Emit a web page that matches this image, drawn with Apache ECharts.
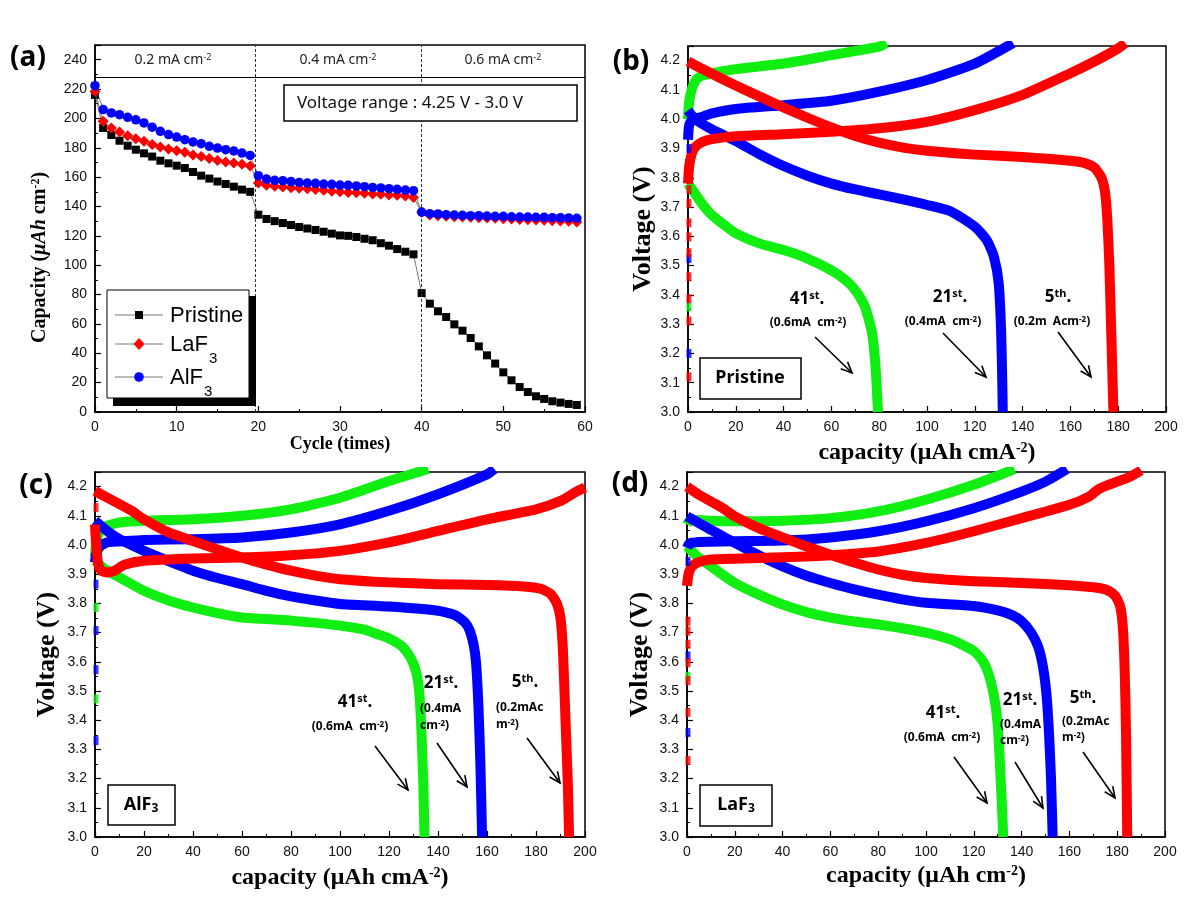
<!DOCTYPE html>
<html><head><meta charset="utf-8">
<script src="https://cdn.jsdelivr.net/npm/echarts@6/dist/echarts.min.js"></script>
<style>html,body{margin:0;padding:0;background:#fff}#c{width:1200px;height:900px}</style>
</head><body><div id="c"></div>
<script>
// ---------- Panel (a): rate capability ----------
const cycles = [0,1,2,3,4,5,6,7,8,9,10,11,12,13,14,15,16,17,18,19,20,21,22,23,24,25,26,27,28,29,30,31,32,33,34,35,36,37,38,39,40,41,42,43,44,45,46,47,48,49,50,51,52,53,54,55,56,57,58,59];
const pristine = [216,193.5,188.7,184.8,181.4,178.7,176.2,174,171.2,169.4,167.8,166.2,163.5,161,159,157,155.3,153.5,151.5,150,
  134.4,131.5,130,128.7,127.4,126,125,124,122.8,121.5,120.3,120,119.2,118,117,115,113.3,111,109.2,107.4,
  81,73.8,68.6,64.7,59.7,55.4,50.4,44.7,38.6,33,27,21.6,17,13.6,10.7,8.9,7.3,6.4,5.5,4.8];
const laf3 = [218.4,198,193.5,190.7,188.2,186.2,184.4,182.3,180.5,179.2,178,176.9,175,174,172.6,171.4,170.3,169.6,168.7,167.6,
  156,154.4,153.7,153.3,152.8,152.4,152,151.5,151,150.3,150.1,149.6,149.4,149,148.5,148.3,147.8,147.6,147.1,146.2,
  136,134.2,133.7,133.3,133,132.8,132.6,132.4,132.2,131.9,131.7,131.5,131.2,131,130.8,130.6,130.3,130.1,129.9,129.4];
const alf3 = [222.3,206,203.7,202.5,200.7,199,196.9,194,191.2,189,187.3,185.5,184,182.8,181,179.8,178.7,177.8,176.4,174.8,
  161,158.7,157.8,157.6,157,156.4,156,155.8,155.3,155.1,154.6,154.4,154,153.5,153,152.6,152.1,151.7,151.2,150.8,
  136.2,135.1,134.9,134.4,134.2,134,133.7,133.7,133.5,133.3,133.3,133,132.8,132.8,132.6,132.6,132.4,132.4,132.2,131.9];
const rateBoundaries = [19.6, 40];
const headerLineY = 228;
const rateLabels = ['0.2 mA cm', '0.4 mA cm', '0.6 mA cm'];
const seriesNamesA = ['Pristine', 'LaF3', 'AlF3'];

// ---------- Panel (b): Pristine voltage profiles [capacity, V] ----------
const bRedDis = [[0,4.197],[10,4.155],[20,4.115],[30,4.077],[40,4.04],[50,4.005],[60,3.972],[70,3.943],[80,3.92],[90,3.903],[100,3.892],[120,3.879],[140,3.871],[160,3.858],[166,3.85],[170,3.835],[173,3.8],[174.5,3.75],[175.5,3.65],[176.3,3.5],[177,3.3],[178,3.0]];
const bRedChg = [[0,3.78],[0.5,3.84],[1.5,3.88],[3,3.905],[6,3.922],[10,3.932],[20,3.942],[40,3.949],[60,3.957],[80,3.969],[100,3.991],[120,4.031],[140,4.083],[160,4.157],[170,4.197],[180,4.242],[183,4.26]];
const bBlueDis = [[0,4.03],[3,4.0],[10,3.965],[20,3.925],[30,3.88],[40,3.84],[50,3.807],[60,3.78],[70,3.76],[80,3.743],[90,3.726],[100,3.707],[110,3.685],[120,3.633],[125,3.587],[128,3.53],[130,3.44],[131,3.28],[131.5,3.1],[131.7,3.0]];
const bBlueChg = [[0,3.93],[0.5,3.98],[2,4.0],[5,4.006],[10,4.02],[20,4.035],[40,4.048],[60,4.063],[80,4.094],[100,4.134],[120,4.19],[136,4.26]];
const bGreenDis = [[0,3.78],[3,3.745],[6,3.71],[10,3.672],[15,3.64],[20,3.61],[30,3.575],[40,3.553],[50,3.524],[60,3.484],[66,3.45],[70,3.416],[74,3.36],[77,3.27],[78.5,3.15],[79.5,3.0]];
const bGreenChg = [[0,4.0],[0.5,4.06],[1.5,4.1],[3,4.13],[5,4.146],[10,4.157],[20,4.171],[40,4.19],[60,4.219],[80,4.248],[83,4.26]];
const bRedDash = [3.76,3.712,3.646,3.598,3.544,3.462,3.387,3.311,3.12];
const bBlueDash = [3.9,3.524,3.2];
const bGreenDash = [3.359];

// ---------- Panel (c): AlF3 ----------
const cRedDis = [[0,4.185],[5,4.162],[10,4.14],[15,4.117],[20,4.088],[30,4.043],[40,4.014],[50,3.985],[60,3.957],[70,3.933],[80,3.912],[90,3.895],[100,3.883],[120,3.872],[140,3.866],[160,3.863],[175,3.858],[182,3.85],[186,3.832],[188.5,3.8],[190,3.75],[191,3.638],[192,3.41],[193,3.18],[193.5,3.0]];
const cRedChg = [[0,4.07],[0.5,4.0],[1.2,3.94],[2.5,3.912],[5,3.906],[8,3.912],[12,3.932],[20,3.946],[40,3.954],[60,3.957],[80,3.965],[100,3.98],[120,4.009],[140,4.048],[160,4.088],[180,4.122],[190,4.151],[197,4.185],[200,4.197]];
const cBlueDis = [[0,4.083],[5,4.048],[10,4.02],[20,3.98],[30,3.945],[40,3.912],[50,3.887],[60,3.866],[70,3.843],[80,3.824],[90,3.81],[100,3.798],[120,3.789],[140,3.775],[147,3.76],[151,3.735],[153,3.706],[154.5,3.66],[155.5,3.6],[156.5,3.45],[157.3,3.25],[158,3.0]];
const cBlueChg = [[0,3.94],[0.5,3.97],[2,3.995],[5,4.009],[10,4.012],[20,4.017],[40,4.02],[60,4.026],[80,4.043],[100,4.071],[120,4.117],[140,4.174],[160,4.242],[163,4.26]];
const cGreenDis = [[0,3.946],[5,3.912],[10,3.889],[20,3.843],[30,3.81],[40,3.786],[50,3.767],[60,3.752],[80,3.741],[100,3.724],[110,3.71],[115,3.695],[120,3.68],[125,3.655],[128,3.625],[130,3.593],[131.5,3.55],[132.5,3.48],[133.3,3.35],[134,3.18],[134.5,3.0]];
const cGreenChg = [[0,3.96],[0.5,4.01],[1.5,4.04],[3,4.058],[5,4.066],[10,4.077],[20,4.083],[40,4.088],[60,4.1],[80,4.122],[100,4.162],[120,4.219],[136,4.26]];
const cRedDash = [4.128];
const cBlueDash = [3.866,3.707,3.573,3.33];
const cGreenDash = [3.786,3.473];

// ---------- Panel (d): LaF3 ----------
const dRedDis = [[0,4.2],[5,4.172],[10,4.149],[15,4.126],[20,4.098],[30,4.058],[40,4.026],[50,3.995],[60,3.967],[70,3.94],[80,3.916],[90,3.898],[100,3.887],[120,3.876],[140,3.87],[160,3.862],[170,3.855],[175,3.848],[178,3.835],[180,3.815],[181.5,3.78],[182.5,3.7],[183.2,3.55],[183.7,3.35],[184.2,3.0]];
const dRedChg = [[0,3.86],[0.5,3.895],[1.5,3.92],[3,3.933],[5,3.942],[10,3.95],[20,3.953],[40,3.958],[60,3.965],[80,3.978],[100,4.007],[120,4.047],[140,4.092],[160,4.138],[168,4.165],[172,4.19],[176,4.205],[180,4.217],[185,4.232],[190,4.255]];
const dBlueDis = [[0,4.098],[5,4.075],[10,4.052],[20,4.007],[30,3.965],[40,3.927],[50,3.895],[60,3.87],[70,3.848],[80,3.83],[90,3.814],[100,3.802],[120,3.791],[130,3.776],[136,3.76],[140,3.739],[144,3.7],[147,3.65],[149,3.58],[150.5,3.48],[151.5,3.35],[152.3,3.2],[153,3.0]];
const dBlueChg = [[0,3.99],[1,4.005],[5,4.01],[10,4.011],[20,4.013],[40,4.015],[60,4.026],[80,4.047],[100,4.081],[120,4.126],[140,4.183],[150,4.217],[159,4.26]];
const dGreenDis = [[0,3.995],[5,3.956],[10,3.927],[20,3.87],[30,3.83],[40,3.796],[50,3.77],[60,3.751],[70,3.738],[80,3.728],[90,3.715],[100,3.7],[110,3.677],[116,3.655],[120,3.637],[124,3.6],[126.5,3.55],[128.5,3.48],[130,3.387],[131,3.239],[131.8,3.1],[132.3,3.0]];
const dGreenChg = [[0,4.07],[1,4.082],[5,4.086],[10,4.083],[20,4.081],[40,4.083],[60,4.092],[80,4.115],[100,4.155],[120,4.206],[137,4.26]];
const dRedDash = [3.739,3.705,3.66,3.597,3.535,3.427,3.262];
const dBlueDash = [3.944,3.62,3.358];
const dGreenDash = [3.55];

// ---------- styling ----------
const RED = '#ff0000', BLUE = '#0000ff', GREEN = '#11ee11';
const SANS = 'Liberation Sans', SERIF = 'Liberation Serif', KR = 'Noto Sans';

const grids = [
  {left: 95, top: 45, width: 490, height: 367},
  {left: 688, top: 46, width: 478, height: 366},
  {left: 95, top: 472, width: 490, height: 365},
  {left: 687, top: 472, width: 478, height: 365}
].map(g => Object.assign({show: true, borderColor: '#000', borderWidth: 1.5, backgroundColor: 'transparent'}, g));

function axisBase(extra) {
  return Object.assign({
    type: 'value',
    axisLine: {show: true, onZero: false, lineStyle: {color: '#000', width: 1.5}},
    axisTick: {show: true, inside: true, length: 6, lineStyle: {color: '#000', width: 1.2}},
    minorTick: {show: true, splitNumber: 2, length: 3, lineStyle: {color: '#000', width: 1}},
    splitLine: {show: false},
    axisLabel: {color: '#111', fontSize: 14, fontFamily: SANS, margin: 8}
  }, extra);
}
const serifB = (sz) => ({fontFamily: SERIF, fontWeight: 'bold', fontSize: sz, color: '#000'});
const titleRich = (sz, italic) => ({
  b: serifB(sz),
  i: Object.assign(serifB(sz), {fontStyle: italic ? 'italic' : 'normal'}),
  s: Object.assign(serifB(Math.round(sz * 0.6)), {verticalAlign: 'top'})
});

const xAxes = [
  axisBase({gridIndex: 0, min: 0, max: 60, interval: 10, name: 'Cycle (times)', nameLocation: 'middle', nameGap: 22, nameTextStyle: serifB(18)}),
  axisBase({gridIndex: 1, min: 0, max: 200, interval: 20, name: '{b|capacity (μAh cmA}{s|-2}{b|)}', nameLocation: 'middle', nameGap: 29, nameTextStyle: {rich: titleRich(24)}}),
  axisBase({gridIndex: 2, min: 0, max: 200, interval: 20, name: '{b|capacity (μAh cmA}{s|-2}{b|)}', nameLocation: 'middle', nameGap: 29, nameTextStyle: {rich: titleRich(24)}}),
  axisBase({gridIndex: 3, min: 0, max: 200, interval: 20, name: '{b|capacity (μAh cm}{s|-2}{b|)}', nameLocation: 'middle', nameGap: 27, nameTextStyle: {rich: titleRich(24)}})
];
const vFmt = v => v.toFixed(1);
const yAxes = [
  axisBase({gridIndex: 0, min: 0, max: 250, interval: 20, axisLabel: {color: '#111', fontSize: 14, fontFamily: SANS, margin: 8, showMaxLabel: false},
    name: '{b|Capacity (}{i|μAh}{b| cm}{s|-2}{b|)}', nameLocation: 'middle', nameRotate: 90, nameGap: 45,
    nameTextStyle: {rich: titleRich(20, true), padding: [0, 58, 0, 0]}}),
  axisBase({gridIndex: 1, min: 3.0, max: 4.25, interval: 0.1, axisLabel: {color: '#111', fontSize: 14, fontFamily: SANS, margin: 8, showMaxLabel: false, formatter: vFmt},
    name: 'Voltage (V)', nameLocation: 'middle', nameRotate: 90, nameGap: 32, nameTextStyle: serifB(26)}),
  axisBase({gridIndex: 2, min: 3.0, max: 4.25, interval: 0.1, axisLabel: {color: '#111', fontSize: 14, fontFamily: SANS, margin: 8, showMaxLabel: false, formatter: vFmt},
    name: 'Voltage (V)', nameLocation: 'middle', nameRotate: 90, nameGap: 35, nameTextStyle: serifB(26)}),
  axisBase({gridIndex: 3, min: 3.0, max: 4.25, interval: 0.1, axisLabel: {color: '#111', fontSize: 14, fontFamily: SANS, margin: 8, showMaxLabel: false, formatter: vFmt},
    name: 'Voltage (V)', nameLocation: 'middle', nameRotate: 90, nameGap: 34, nameTextStyle: serifB(26)})
];

const series = [];
// panel (a)
const pairs = arr => cycles.map((c, i) => [c, arr[i]]);
const aDefs = [
  {name: seriesNamesA[0], data: pristine, color: '#000', symbol: 'rect', size: 8},
  {name: seriesNamesA[1], data: laf3, color: RED, symbol: 'diamond', size: 11},
  {name: seriesNamesA[2], data: alf3, color: BLUE, symbol: 'circle', size: 9.5}
];
aDefs.forEach((d, k) => {
  const s = {
    type: 'line', name: d.name, xAxisIndex: 0, yAxisIndex: 0, data: pairs(d.data),
    symbol: d.symbol, symbolSize: d.size, showSymbol: true,
    itemStyle: {color: d.color}, lineStyle: {color: '#555', width: 0.8},
    emphasis: {disabled: true}, z: 3 + k
  };
  if (k === 0) {
    s.markLine = {
      silent: true, symbol: ['none', 'none'], label: {show: false},
      data: rateBoundaries.map(x => ({xAxis: x, lineStyle: {color: '#333', width: 1, type: [3, 2]}}))
        .concat([{yAxis: headerLineY, lineStyle: {color: '#000', width: 1, type: 'solid'}}])
    };
  }
  series.push(s);
});

function curve(idx, data, color) {
  series.push({type: 'line', xAxisIndex: idx, yAxisIndex: idx, data, showSymbol: false, symbol: 'none',
    smooth: 0.2, lineStyle: {color, width: 10, cap: 'butt', join: 'round'}, emphasis: {disabled: true}, z: 2});
}
function dashes(idx, vals, color) {
  series.push({type: 'scatter', xAxisIndex: idx, yAxisIndex: idx, data: vals.map(v => [0.4, v]),
    symbol: 'rect', symbolSize: [5, 9], itemStyle: {color}, emphasis: {disabled: true}, z: 3});
}
[[1, bGreenDis, bGreenChg, bBlueDis, bBlueChg, bRedDis, bRedChg, bGreenDash, bBlueDash, bRedDash],
 [2, cGreenDis, cGreenChg, cBlueDis, cBlueChg, cRedDis, cRedChg, cGreenDash, cBlueDash, cRedDash],
 [3, dGreenDis, dGreenChg, dBlueDis, dBlueChg, dRedDis, dRedChg, dGreenDash, dBlueDash, dRedDash]].forEach(p => {
  const i = p[0];
  curve(i, p[2], GREEN); curve(i, p[1], GREEN);
  curve(i, p[4], BLUE); curve(i, p[3], BLUE);
  curve(i, p[6], RED); curve(i, p[5], RED);
  dashes(i, p[7], GREEN); dashes(i, p[8], BLUE); dashes(i, p[9], RED);
});

// ---------- annotations (graphic) ----------
const G = [];
const Z = 100;
function txt(x, y, text, style) {
  G.push({type: 'text', x, y, z: Z, silent: true,
    style: Object.assign({text, fill: '#000', align: 'center', verticalAlign: 'middle'}, style)});
}
function rect(x, y, w, h, fill, stroke, lw) {
  G.push({type: 'rect', z: Z, silent: true, shape: {x, y, width: w, height: h},
    style: {fill, stroke: stroke || null, lineWidth: lw || 0}});
}
function arrow(x1, y1, x2, y2) {
  const a = Math.atan2(y2 - y1, x2 - x1), L = 12, w = 0.42;
  G.push({type: 'line', z: Z, silent: true, shape: {x1, y1, x2, y2}, style: {stroke: '#000', lineWidth: 1.6}});
  G.push({type: 'polyline', z: Z, silent: true,
    shape: {points: [[x2 - L * Math.cos(a - w), y2 - L * Math.sin(a - w)], [x2, y2], [x2 - L * Math.cos(a + w), y2 - L * Math.sin(a + w)]]},
    style: {stroke: '#000', lineWidth: 1.6, fill: null}});
}
const letterFont = {font: 'bold 28px "Noto Sans"'};
txt(28, 58, '(a)', letterFont);
txt(631, 62, '(b)', letterFont);
txt(36, 486, '(c)', letterFont);
txt(630, 484, '(d)', letterFont);

// header band labels
const kr = (sz) => ({fontFamily: KR, fontSize: sz, fill: '#222'});
const bandRich = {t: kr(14), s: Object.assign(kr(9), {verticalAlign: 'top'})};
const bandCenters = [173, 338, 503];
rateLabels.forEach((l, i) => txt(bandCenters[i], 60, '{t|' + l + '}{s|-2}', {rich: bandRich}));

// voltage range box
rect(284, 85, 293, 36, '#fff', '#000', 1.5);
txt(410, 103, 'Voltage range : 4.25 V - 3.0 V', {font: '17px "Noto Sans"', fill: '#111'});

// legend box with shadow
rect(113, 296, 143, 110, '#000');
rect(107, 290, 142, 108, '#fff', '#000', 1);
const legRich = {b: {fontFamily: SANS, fontSize: 22, fill: '#000'}, s: {fontFamily: SANS, fontSize: 15, fill: '#000', padding: [28, 0, 0, 1]}};
const legRows = [316, 345, 378];
const legLabels = ['{b|Pristine}', '{b|LaF}{s|3}', '{b|AlF}{s|3}'];
legRows.forEach((y, i) => {
  G.push({type: 'line', z: Z, silent: true, shape: {x1: 115, y1: y - 1, x2: 163, y2: y - 1}, style: {stroke: '#777', lineWidth: 1}});
  const mx = 139, my = y - 1;
  if (i === 0) G.push({type: 'rect', z: Z + 1, silent: true, shape: {x: mx - 4, y: my - 4, width: 8, height: 8}, style: {fill: '#000'}});
  if (i === 1) G.push({type: 'polygon', z: Z + 1, silent: true, shape: {points: [[mx, my - 6], [mx + 5.5, my], [mx, my + 6], [mx - 5.5, my]]}, style: {fill: RED}});
  if (i === 2) G.push({type: 'circle', z: Z + 1, silent: true, shape: {cx: mx, cy: my, r: 4.8}, style: {fill: BLUE}});
  G.push({type: 'text', x: 170, y: y, z: Z, silent: true,
    style: {text: legLabels[i], rich: legRich, align: 'left', verticalAlign: 'middle'}});
});

// cycle annotations
const annRich = {
  n: {fontFamily: KR, fontWeight: 'bold', fontSize: 17, fill: '#000', verticalAlign: 'bottom'},
  p: {fontFamily: KR, fontWeight: 'bold', fontSize: 11, fill: '#000', verticalAlign: 'top'},
  t: {fontFamily: KR, fontWeight: 'bold', fontSize: 12, fill: '#000'},
  q: {fontFamily: KR, fontWeight: 'bold', fontSize: 8, fill: '#000', verticalAlign: 'top'}
};
const cyc = (n, sup) => '{n|' + n + '}{p|' + sup + '}{n|.}';
// (b)
txt(807, 299, cyc('41', 'st'), {rich: annRich});
txt(808, 323, '{t|(0.6mA  cm}{q|-2}{t|)}', {rich: annRich});
arrow(815, 337, 852, 373);
txt(950, 297, cyc('21', 'st'), {rich: annRich});
txt(943, 322, '{t|(0.4mA  cm}{q|-2}{t|)}', {rich: annRich});
arrow(943, 333, 986, 377);
txt(1058, 297, cyc('5', 'th'), {rich: annRich});
txt(1052, 322, '{t|(0.2m  Acm}{q|-2}{t|)}', {rich: annRich});
arrow(1058, 332, 1091, 377);
rect(700, 358, 101, 41, '#fff', '#000', 1.5);
txt(750, 378, 'Pristine', {font: 'bold 18px "Noto Sans"'});
// (c)
txt(355, 702, cyc('41', 'st'), {rich: annRich});
txt(350, 727, '{t|(0.6mA  cm}{q|-2}{t|)}', {rich: annRich});
arrow(375, 746, 408, 790);
txt(441, 683, cyc('21', 'st'), {rich: annRich});
txt(420, 709, '{t|(0.4mA}', {rich: annRich, align: 'left'});
txt(420, 726, '{t|cm}{q|-2}{t|)}', {rich: annRich, align: 'left'});
arrow(437, 743, 467, 787);
txt(525, 682, cyc('5', 'th'), {rich: annRich});
txt(496, 708, '{t|(0.2mAc}', {rich: annRich, align: 'left'});
txt(496, 725, '{t|m}{q|-2}{t|)}', {rich: annRich, align: 'left'});
arrow(527, 738, 560, 783);
rect(108, 785, 67, 40, '#fff', '#000', 1.5);
txt(141, 805, '{a|AlF}{b|3}', {rich: {a: {fontFamily: KR, fontWeight: 'bold', fontSize: 18, fill: '#000'}, b: {fontFamily: KR, fontWeight: 'bold', fontSize: 12, fill: '#000', padding: [8, 0, 0, 0]}}});
// (d)
txt(943, 713, cyc('41', 'st'), {rich: annRich});
txt(942, 738, '{t|(0.6mA  cm}{q|-2}{t|)}', {rich: annRich});
arrow(954, 757, 987, 803);
txt(1020, 700, cyc('21', 'st'), {rich: annRich});
txt(1000, 725, '{t|(0.4mA}', {rich: annRich, align: 'left'});
txt(1000, 741, '{t|cm}{q|-2}{t|)}', {rich: annRich, align: 'left'});
arrow(1015, 762, 1043, 808);
txt(1083, 698, cyc('5', 'th'), {rich: annRich});
txt(1062, 722, '{t|(0.2mAc}', {rich: annRich, align: 'left'});
txt(1062, 738, '{t|m}{q|-2}{t|)}', {rich: annRich, align: 'left'});
arrow(1083, 752, 1115, 798);
rect(700, 785, 72, 41, '#fff', '#000', 1.5);
txt(736, 805, '{a|LaF}{b|3}', {rich: {a: {fontFamily: KR, fontWeight: 'bold', fontSize: 18, fill: '#000'}, b: {fontFamily: KR, fontWeight: 'bold', fontSize: 12, fill: '#000', padding: [8, 0, 0, 0]}}});

const chart = echarts.init(document.getElementById('c'), null, {renderer: 'canvas'});
chart.setOption({
  animation: false,
  backgroundColor: '#fff',
  grid: grids,
  xAxis: xAxes,
  yAxis: yAxes,
  series,
  graphic: {elements: G}
});
</script></body></html>
